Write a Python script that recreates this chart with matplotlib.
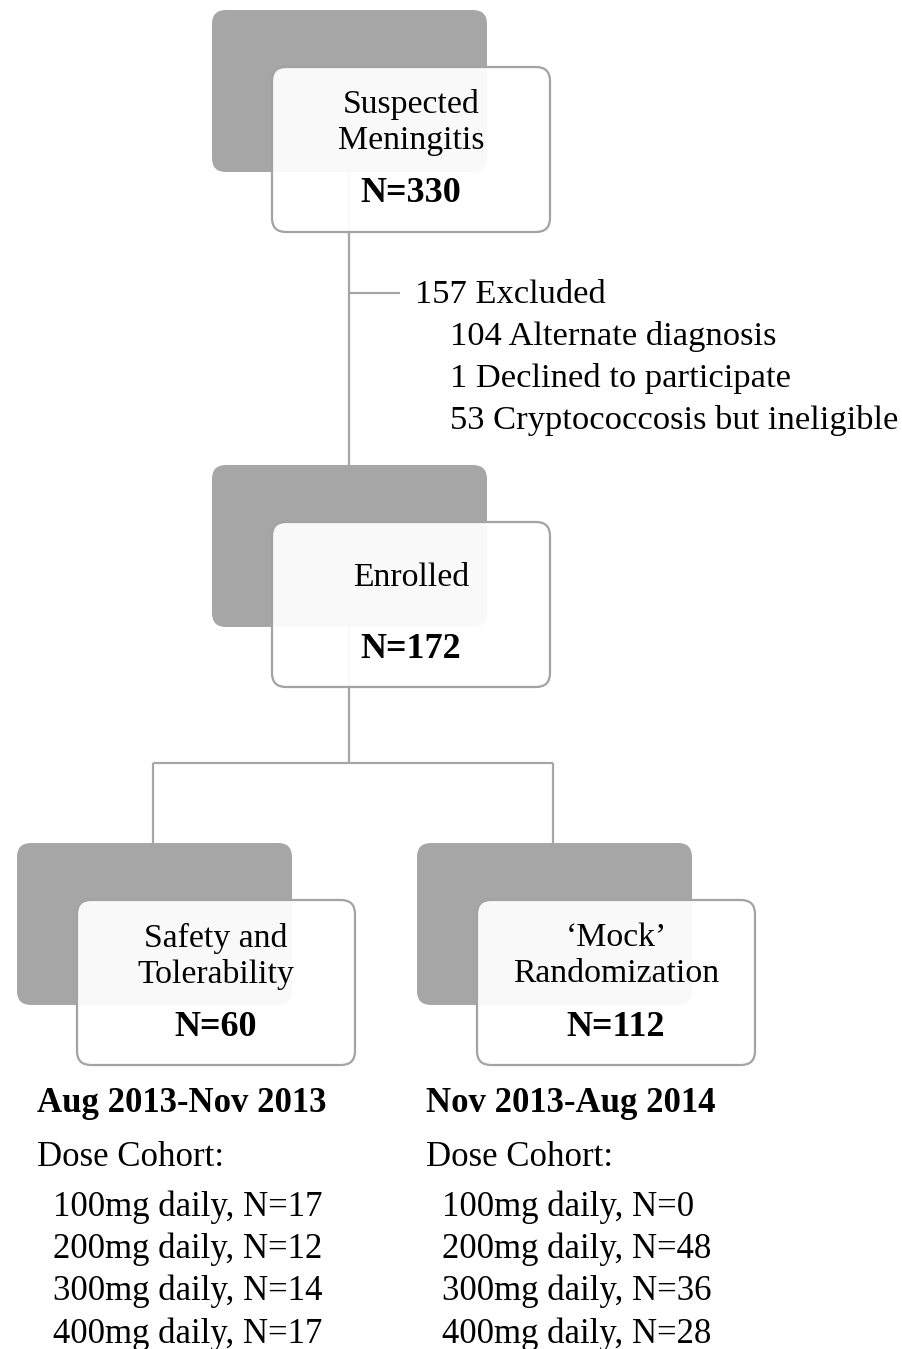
import matplotlib
matplotlib.use("Agg")
import matplotlib.pyplot as plt
from matplotlib.patches import FancyBboxPatch

# ---- data ----
box_titles = [["Suspected", "Meningitis"], ["Enrolled"],
              ["Safety and", "Tolerability"], ["\u2018Mock\u2019", "Randomization"]]
box_counts = [330, 172, 60, 112]
excluded_total = 157
excluded_reasons = ["104 Alternate diagnosis", "1 Declined to participate",
                    "53 Cryptococcosis but ineligible"]
periods = ["Aug 2013-Nov 2013", "Nov 2013-Aug 2014"]
doses = ["100mg", "200mg", "300mg", "400mg"]
cohort_safety = [17, 12, 14, 17]
cohort_mock = [0, 48, 36, 28]

W, H = 903, 1349
fig = plt.figure(figsize=(W / 100, H / 100), dpi=100)
ax = fig.add_axes([0, 0, 1, 1])
ax.set_xlim(0, W)
ax.set_ylim(H, 0)
ax.axis("off")

FONT = "Liberation Serif"
GREY = "#a6a6a6"
EDGE = "#a3a3a3"
LINE = "#a6a6a6"
FS_TITLE = 24.3
FS_N = 26
FS_EXC = 24.8
FS_BOT = 25

def rbox(x0, y0, x1, y1, face, edge, lw, z):
    p = FancyBboxPatch((x0, y0), x1 - x0, y1 - y0,
                       boxstyle="round,pad=0,rounding_size=14",
                       facecolor=face, edgecolor=edge, linewidth=lw, zorder=z)
    ax.add_patch(p)

def node(bx, by, titles, count):
    rbox(bx, by, bx + 275, by + 162, GREY, "none", 0, 1)
    fx, fy = bx + 60, by + 57
    rbox(fx, fy, fx + 278, fy + 165, (1, 1, 1, 0.94), EDGE, 1.6, 3)
    cx = fx + 139
    if len(titles) == 2:
        ys = [fy + 38, fy + 74]
    else:
        ys = [fy + 56]
    for t, y in zip(titles, ys):
        ax.text(cx, y, t, ha="center", va="center", fontsize=FS_TITLE,
                family=FONT, zorder=4)
    ax.text(cx, fy + 127, f"N={count}", ha="center", va="center",
            fontsize=FS_N, family=FONT, fontweight="bold", zorder=4)

positions = [(212, 10), (212, 465), (17, 843), (417, 843)]

lk = dict(color=LINE, linewidth=1.6, zorder=2, solid_capstyle="butt")
ax.plot([349, 349], [172, 465], **lk)
ax.plot([349, 400], [293, 293], **lk)
ax.plot([349, 349], [627, 763], **lk)
ax.plot([153, 553], [763, 763], **lk)
ax.plot([153, 153], [763, 843], **lk)
ax.plot([553, 553], [763, 843], **lk)

for (bx, by), t, n in zip(positions, box_titles, box_counts):
    node(bx, by, t, n)

ax.text(415, 295, f"{excluded_total} Excluded", ha="left", va="center",
        fontsize=FS_EXC, family=FONT)
for i, r in enumerate(excluded_reasons):
    ax.text(450, 337 + 42 * i, r, ha="left", va="center",
            fontsize=FS_EXC, family=FONT)

for x0, period, counts in zip([37, 426], periods, [cohort_safety, cohort_mock]):
    ax.text(x0, 1103, period, ha="left", va="center", fontsize=FS_BOT,
            family=FONT, fontweight="bold")
    ax.text(x0, 1157, "Dose Cohort:", ha="left", va="center", fontsize=FS_BOT,
            family=FONT)
    for i, (d, c) in enumerate(zip(doses, counts)):
        ax.text(x0 + 16, 1207 + 42.3 * i, f"{d} daily, N={c}", ha="left",
                va="center", fontsize=FS_BOT, family=FONT)

fig.savefig("out.png", dpi=100, facecolor="white")
